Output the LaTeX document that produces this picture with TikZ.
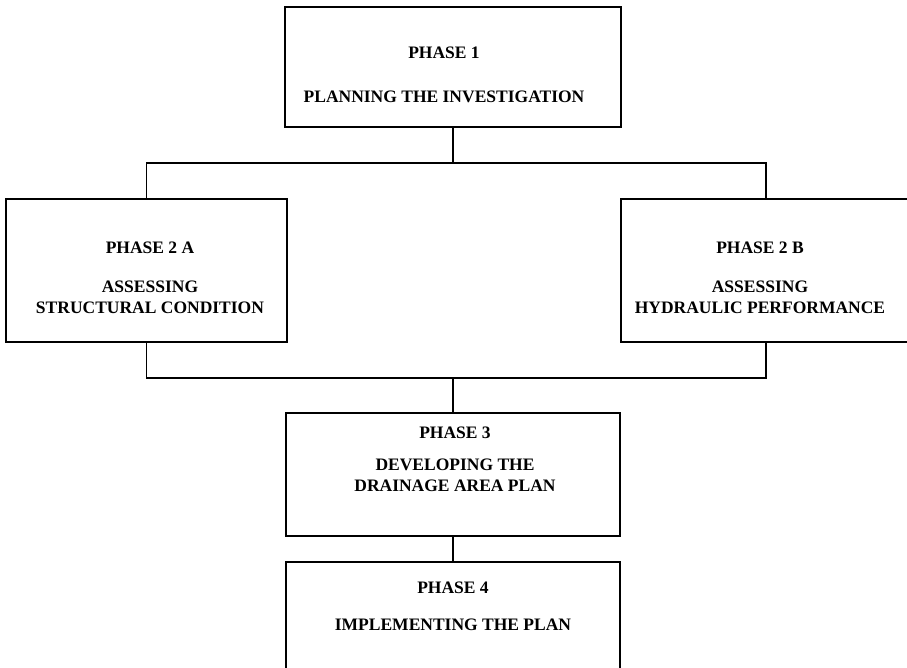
\documentclass[tikz,border=0pt]{standalone}
\usepackage{fontspec}
\setmainfont{Liberation Serif}
\usetikzlibrary{positioning}
\tikzset{
  phase/.style={draw, rectangle, line width=1.5pt, inner sep=0pt},
  caption/.style={font=\bfseries\fontsize{17.5}{21}\selectfont, align=center, inner sep=0pt},
  link/.style={line width=1.5pt}
}

\begin{document}
\begin{tikzpicture}[x=1pt, y=-1pt]
  \useasboundingbox (0,0) rectangle (907,668);
  \clip (0,0) rectangle (907,668);

  % Phase boxes
  \node[phase, minimum width=336, minimum height=120] (ph1) at (453,67) {};
  \node[phase, minimum width=281, minimum height=143] (ph2a) at (146.5,270.5) {};
  \node[phase, minimum width=290, minimum height=143] (ph2b) at (766,270.5) {};
  \node[phase, minimum width=334, minimum height=123] (ph3) at (453,474.5) {};
  \node[phase, minimum width=334, minimum height=123] (ph4) at (453,623.5) {};

  % Box texts
  \node[caption] (lbl1) at (444,75) {PHASE 1\\[23pt]PLANNING THE INVESTIGATION};
  \node[caption] (lbl2a) at (150,278) {PHASE 2 A\\[18pt]ASSESSING\\STRUCTURAL CONDITION};
  \node[caption] (lbl2b) at (760,278) {PHASE 2 B\\[18pt]ASSESSING\\HYDRAULIC PERFORMANCE};
  \node[caption] (lbl3) at (455,459) {PHASE 3\\[11pt]DEVELOPING THE\\DRAINAGE AREA PLAN};
  \node[caption] (lbl4) at (453,606) {PHASE 4\\[16pt]IMPLEMENTING THE PLAN};

  % Branch points
  \coordinate (split) at (453,163);
  \coordinate (join) at (453,378);

  % Connectors
  \draw[link] (ph1.south) -- (split);
  \draw[link] (ph2a.north) |- (split) -| (ph2b.north);
  \draw[link] (ph2a.south) |- (join) -| (ph2b.south);
  \draw[link] (join) -- (ph3.north);
  \draw[link] (ph3.south) -- (ph4.north);
\end{tikzpicture}
\end{document}
